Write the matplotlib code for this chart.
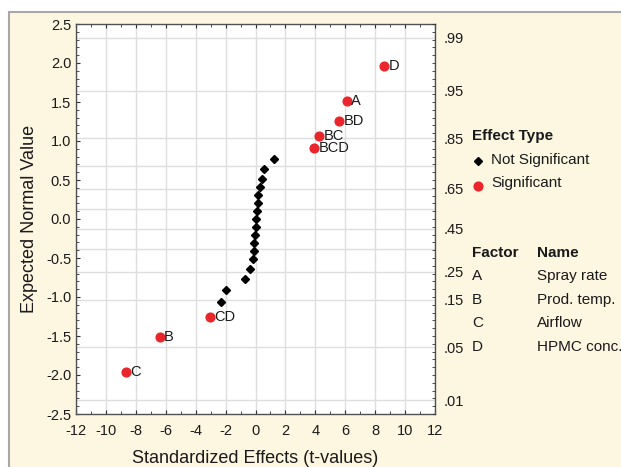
import matplotlib
matplotlib.use("Agg")
import matplotlib.pyplot as plt
from matplotlib.patches import Rectangle
from matplotlib.lines import Line2D
from matplotlib.ticker import MultipleLocator, FixedLocator
from statistics import NormalDist

plt.rcParams['font.family'] = ['Liberation Sans', 'DejaVu Sans']
plt.rcParams['axes.unicode_minus'] = False

# significant effects (t-values, expected normal value)
sig_labels = ["D", "A", "BD", "BC", "BCD", "CD", "B", "C"]
sig_t = [8.6, 6.1, 5.6, 4.27, 3.93, -3.02, -6.4, -8.66]
sig_z = [1.964, 1.519, 1.260, 1.064, 0.904, -1.260, -1.519, -1.964]

# non-significant effects
ns_t = [1.26, 0.59, 0.43, 0.28, 0.17, 0.17, 0.08, 0.06, 0.03, -0.03,
        -0.08, -0.12, -0.15, -0.35, -0.68, -1.97, -2.31]
ns_z = [0.763, 0.636, 0.519, 0.409, 0.302, 0.200, 0.099, 0.0, -0.099, -0.200,
        -0.302, -0.409, -0.519, -0.636, -0.763, -0.904, -1.064]

prob_labels = [".01", ".05", ".15", ".25", ".45", ".65", ".85", ".95", ".99"]
prob_grid = [0.01, 0.05, 0.15, 0.25, 0.35, 0.45, 0.55, 0.65, 0.75, 0.85, 0.95, 0.99]

factors = ["A", "B", "C", "D"]
factor_names = ["Spray rate", "Prod. temp.", "Airflow", "HPMC conc."]

W, H = 621, 467
fig = plt.figure(figsize=(W / 100, H / 100), dpi=100)
fig.patch.set_facecolor("white")

# cream panel with grey border
fig.add_artist(Rectangle((9 / W, -0.05), 1.1, 1 - 12 / H + 0.05, transform=fig.transFigure,
                         facecolor="#fdf7e2", edgecolor="#a8a8a8", linewidth=1.5, zorder=0))

ax = fig.add_axes([76 / W, (H - 414) / H, 359 / W, 390 / H])
ax.set_facecolor("white")
ax.set_zorder(2)
ax.set_xlim(-12, 12)
ax.set_ylim(-2.5, 2.5)

nd = NormalDist()
for p in prob_grid:
    ax.axhline(nd.inv_cdf(p), color="#dedede", lw=1, zorder=0)
ax.xaxis.set_major_locator(MultipleLocator(2))
ax.xaxis.set_minor_locator(MultipleLocator(1))
ax.yaxis.set_major_locator(MultipleLocator(0.5))
ax.yaxis.set_minor_locator(MultipleLocator(0.1))
ax.grid(axis="x", which="major", color="#dedede", lw=1, zorder=0)
ax.set_axisbelow(True)
ax.yaxis.set_major_formatter(plt.FuncFormatter(lambda v, p: "%.1f" % v))

ax.tick_params(which="both", direction="in", top=True, right=False,
               labelsize=10.5, colors="#303030", labelcolor="#1a1a1a")
ax.tick_params(which="major", length=3)
ax.tick_params(which="minor", length=2)
ax.tick_params(axis="x", pad=7)
for s in ax.spines.values():
    s.set_color("#505050")
    s.set_linewidth(1)

ax.plot(ns_t, ns_z, linestyle="none", marker="D", color="black", markersize=4.2, zorder=3)
ax.plot(sig_t, sig_z, linestyle="none", marker="o", color="#e8262b", markersize=6.3, zorder=3)
for lab, t, z in zip(sig_labels, sig_t, sig_z):
    ax.annotate(lab, (t, z), xytext=(3, 0), textcoords="offset points",
                va="center", ha="left", fontsize=10.5, color="#1a1a1a")

ax.set_xlabel("Standardized Effects (t-values)", fontsize=13, color="#1a1a1a", labelpad=9)
ax.set_ylabel("Expected Normal Value", fontsize=13, color="#1a1a1a", labelpad=6)

ax2 = ax.twinx()
ax2.set_ylim(-2.5, 2.5)
ax2.yaxis.set_major_locator(FixedLocator([nd.inv_cdf(float(l)) for l in prob_labels]))
ax2.set_yticklabels(prob_labels)
ax2.yaxis.set_minor_locator(MultipleLocator(0.1))
ax2.tick_params(which="major", direction="in", length=0, labelsize=10.5, pad=6, labelcolor="#1a1a1a")
ax2.tick_params(which="minor", direction="in", length=2, color="#303030")
for s in ax2.spines.values():
    s.set_visible(False)

# legend area
def fx(px):
    return px / W

def fy(py):
    return 1 - py / H

fs = 11
fig.text(fx(472), fy(136), "Effect Type", fontsize=fs, fontweight="bold", va="center", color="#1a1a1a")
fig.add_artist(Line2D([fx(478)], [fy(161)], transform=fig.transFigure, marker="D",
                      color="black", markersize=4.2, linestyle="none"))
fig.text(fx(491), fy(160), "Not Significant", fontsize=fs, va="center", color="#1a1a1a")
fig.add_artist(Line2D([fx(478)], [fy(186)], transform=fig.transFigure, marker="o",
                      color="#e8262b", markersize=6.3, linestyle="none"))
fig.text(fx(491), fy(183), "Significant", fontsize=fs, va="center", color="#1a1a1a")

fig.text(fx(472), fy(253), "Factor", fontsize=fs, fontweight="bold", va="center", color="#1a1a1a")
fig.text(fx(537), fy(253), "Name", fontsize=fs, fontweight="bold", va="center", color="#1a1a1a")
rows_y = [276, 300, 323, 347]
for f, n, ry in zip(factors, factor_names, rows_y):
    fig.text(fx(472), fy(ry), f, fontsize=fs, va="center", color="#1a1a1a")
    fig.text(fx(537), fy(ry), n, fontsize=fs, va="center", color="#1a1a1a")

fig.savefig("out.png", dpi=100)
